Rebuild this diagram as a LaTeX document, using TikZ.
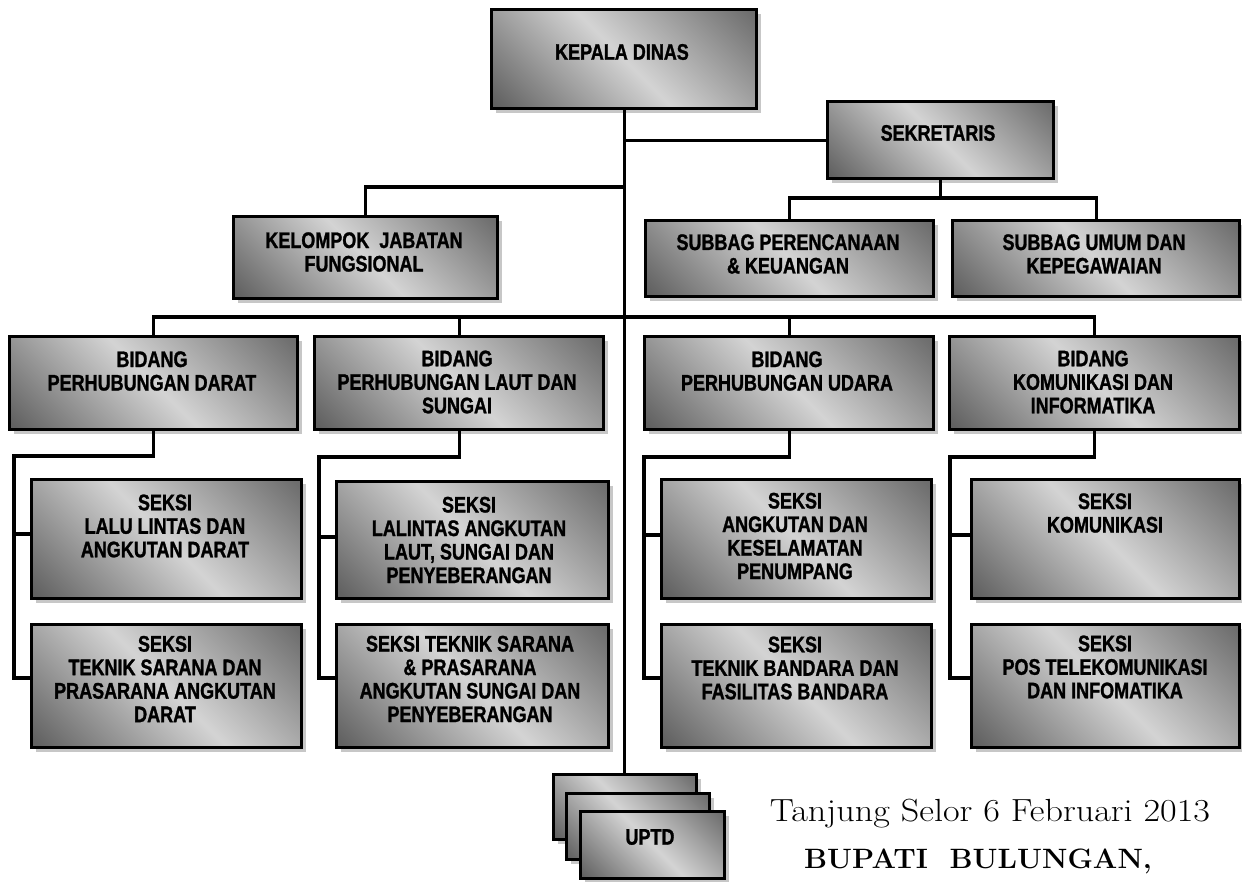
\documentclass[tikz,border=0pt]{standalone}
\usepackage{fontspec}
\usepackage{graphicx}
\newfontfamily\boxfont{Liberation Sans}[FakeStretch=0.8, BoldFeatures={FakeBold=1.2}]
\usetikzlibrary{shadows}

% diagonal metallic fill: dark corners, light band across the middle
\pgfdeclarehorizontalshading{boxshade}{100bp}{%
  color(0bp)=(black!66); color(16bp)=(black!62); color(50bp)=(black!17);
  color(84bp)=(black!57); color(100bp)=(black!60)}

\tikzset{
  orgbox/.style={draw=black, line width=3.2pt, shade, shading=boxshade,
    shading angle=45, anchor=north west, inner sep=0pt,
    drop shadow={shadow xshift=4pt, shadow yshift=-4pt, fill=black!22, opacity=1}},
  lbl/.style={font=\boxfont\bfseries\fontsize{22.5}{23.5}\selectfont,
    align=center, inner sep=0pt},
  conn/.style={line width=3.2pt},
  datefont/.style={anchor=base, inner sep=0pt, font=\fontsize{32}{38}\selectfont},
  signfont/.style={anchor=base, inner sep=0pt, font=\bfseries\fontsize{28}{34}\selectfont}
}

\begin{document}
\begin{tikzpicture}[x=1pt, y=-1pt]
\useasboundingbox (0,0) rectangle (1242,881);

% ---- boxes ----
\node[orgbox, minimum width=265pt, minimum height=99pt] (kd)  at (490,8)   {};
\node[orgbox, minimum width=226pt, minimum height=77pt] (sek) at (826,100) {};
\node[orgbox, minimum width=264pt, minimum height=82pt] (kjf) at (232,215) {};
\node[orgbox, minimum width=288pt, minimum height=76pt] (sp)  at (644,219) {};
\node[orgbox, minimum width=287pt, minimum height=76pt] (su)  at (951,219) {};

\node[orgbox, minimum width=288pt, minimum height=93pt] (b1) at (8,335)   {};
\node[orgbox, minimum width=289pt, minimum height=93pt] (b2) at (313,335) {};
\node[orgbox, minimum width=289pt, minimum height=93pt] (b3) at (643,335) {};
\node[orgbox, minimum width=290pt, minimum height=93pt] (b4) at (948,335) {};

\node[orgbox, minimum width=270pt, minimum height=119pt] (s1a) at (30,478)  {};
\node[orgbox, minimum width=270pt, minimum height=123pt] (s1b) at (30,623)  {};
\node[orgbox, minimum width=272pt, minimum height=117pt] (s2a) at (335,480) {};
\node[orgbox, minimum width=272pt, minimum height=123pt] (s2b) at (335,623) {};
\node[orgbox, minimum width=270pt, minimum height=119pt] (s3a) at (660,478) {};
\node[orgbox, minimum width=270pt, minimum height=123pt] (s3b) at (660,623) {};
\node[orgbox, minimum width=268pt, minimum height=119pt] (s4a) at (970,478) {};
\node[orgbox, minimum width=268pt, minimum height=123pt] (s4b) at (970,623) {};

% stacked UPTD units
\node[orgbox, minimum width=143pt, minimum height=65pt] (uA) at (552,773) {};
\node[orgbox, minimum width=143pt, minimum height=66pt] (uB) at (565,792) {};
\node[orgbox, minimum width=144pt, minimum height=67pt] (uC) at (579,810) {};

% ---- junction points ----
\coordinate (jk) at (623,187);
\coordinate (sj) at (939,198);
\coordinate (bj) at (623,317);
\coordinate (r1) at (14,456);   \coordinate (r1a) at (14,534);  \coordinate (r1b) at (14,678);
\coordinate (r2) at (319,457);  \coordinate (r2a) at (319,537); \coordinate (r2b) at (319,678);
\coordinate (r3) at (644,457);  \coordinate (r3a) at (644,535); \coordinate (r3b) at (644,678);
\coordinate (r4) at (950,457);  \coordinate (r4a) at (950,535); \coordinate (r4b) at (950,678);

% ---- connectors ----
\draw[conn] (kd.south) -- (kd.south |- uA.north);
\draw[conn] (kd.south |- sek.west) -- (sek.west);
\draw[conn] (jk) -| (kjf.north);
\draw[conn] (sek.south) -- (sek.south |- sj);
\draw[conn] (sp.north) -- (sp.north |- sj) -- (su.north |- sj) -- (su.north);
\draw[conn] (b1.north) -- (b1.north |- bj) -- (b4.north |- bj) -- (b4.north);
\draw[conn] (b2.north) -- (b2.north |- bj);
\draw[conn] (b3.north) -- (b3.north |- bj);

\draw[conn] (b1.south) -- (b1.south |- r1) -- (r1) -- (r1b) -- (r1b -| s1b.west);
\draw[conn] (r1a) -- (r1a -| s1a.west);
\draw[conn] (b2.south) -- (b2.south |- r2) -- (r2) -- (r2b) -- (r2b -| s2b.west);
\draw[conn] (r2a) -- (r2a -| s2a.west);
\draw[conn] (b3.south) -- (b3.south |- r3) -- (r3) -- (r3b) -- (r3b -| s3b.west);
\draw[conn] (r3a) -- (r3a -| s3a.west);
\draw[conn] (b4.south) -- (b4.south |- r4) -- (r4) -- (r4b) -- (r4b -| s4b.west);
\draw[conn] (r4a) -- (r4a -| s4a.west);

% ---- labels ----
\node[lbl] (kd-t)  at (622,52)  {KEPALA DINAS};
\node[lbl] (sek-t) at (938,133) {SEKRETARIS};
\node[lbl] (kjf-t) at (364,252) {KELOMPOK\ \ JABATAN\\FUNGSIONAL};
\node[lbl] (sp-t)  at (788,254) {SUBBAG PERENCANAAN\\\& KEUANGAN};
\node[lbl] (su-t)  at (1094,254) {SUBBAG UMUM DAN\\KEPEGAWAIAN};

\node[lbl] (b1-t) at (152,371)  {BIDANG\\PERHUBUNGAN DARAT};
\node[lbl] (b2-t) at (457,382)  {BIDANG\\PERHUBUNGAN LAUT DAN\\SUNGAI};
\node[lbl] (b3-t) at (787,371)  {BIDANG\\PERHUBUNGAN UDARA};
\node[lbl] (b4-t) at (1093,382) {BIDANG\\KOMUNIKASI DAN\\INFORMATIKA};

\node[lbl] (s1a-t) at (165,526)  {SEKSI\\LALU LINTAS DAN\\ANGKUTAN DARAT};
\node[lbl] (s1b-t) at (165,679)  {SEKSI\\TEKNIK SARANA DAN\\PRASARANA ANGKUTAN\\DARAT};
\node[lbl] (s2a-t) at (469,540)  {SEKSI\\LALINTAS ANGKUTAN\\LAUT, SUNGAI DAN\\PENYEBERANGAN};
\node[lbl] (s2b-t) at (470,679)  {SEKSI TEKNIK SARANA\\\& PRASARANA\\ANGKUTAN SUNGAI DAN\\PENYEBERANGAN};
\node[lbl] (s3a-t) at (795,536)  {SEKSI\\ANGKUTAN DAN\\KESELAMATAN\\PENUMPANG};
\node[lbl] (s3b-t) at (795,668)  {SEKSI\\TEKNIK BANDARA DAN\\FASILITAS BANDARA};
\node[lbl] (s4a-t) at (1105,513) {SEKSI\\KOMUNIKASI};
\node[lbl] (s4b-t) at (1105,667) {SEKSI\\POS TELEKOMUNIKASI\\DAN INFOMATIKA};

\node[lbl] (uC-t) at (650,837) {UPTD};

% ---- signature block ----
\node[datefont] (date) at (990,821) {\scalebox{1.13}[1]{Tanjung Selor 6 Februari 2013}};
\node[signfont] (sign) at (978,868) {\scalebox{1.03}[1]{BUPATI\ \ BULUNGAN,}};
\end{tikzpicture}
\end{document}
